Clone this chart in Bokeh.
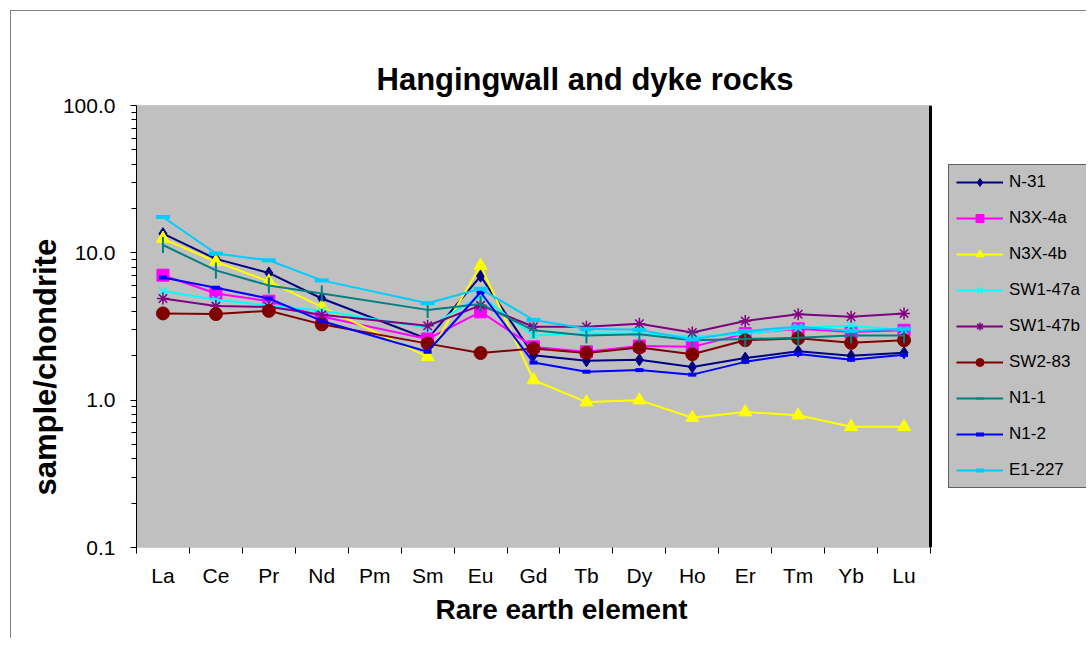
import math
from bokeh.plotting import figure
from bokeh.models import (Range1d, LinearAxis, FixedTicker, CustomJSTickFormatter,
                          PrintfTickFormatter, Legend, LegendItem, Title, ColumnDataSource,
                          Span, BoxAnnotation)
from bokeh.embed import file_html
from bokeh.resources import INLINE

# ---------------- data ----------------
elements = ["La", "Ce", "Pr", "Nd", "Pm", "Sm", "Eu", "Gd", "Tb", "Dy", "Ho", "Er", "Tm", "Yb", "Lu"]
y_ticks = [0.1, 1, 10, 100]

n_31     = [13.5, 9.1, 7.3, 4.9, None, 2.6, 6.95, 2.02, 1.85, 1.88, 1.68, 1.93, 2.15, 2.0, 2.1]
n3x_4a   = [7.05, 5.3, 4.7, 3.7, None, 2.6, 3.98, 2.3, 2.13, 2.33, 2.3, 2.83, 3.05, 2.9, 2.98]
n3x_4b   = [12.5, 8.7, 6.4, 4.3, None, 1.97, 8.2, 1.37, 0.97, 1.0, 0.76, 0.83, 0.79, 0.66, 0.66]
sw1_47a  = [5.5, 4.8, 4.4, 4.05, None, 3.1, 5.1, 2.75, 2.85, 2.85, 2.7, 2.8, 3.1, 3.2, 2.98]
sw1_47b  = [4.9, 4.35, 4.3, 3.8, None, 3.2, 4.4, 3.15, 3.15, 3.3, 2.88, 3.45, 3.83, 3.68, 3.88]
sw2_83   = [3.88, 3.84, 4.04, 3.27, None, 2.42, 2.09, 2.24, 2.09, 2.28, 2.05, 2.55, 2.63, 2.45, 2.55]
n1_1     = [11.3, 7.6, 6.0, 5.3, None, 4.1, 4.5, 2.98, 2.75, 2.8, 2.55, 2.6, 2.65, 2.75, 2.75]
n1_2     = [6.8, 5.8, 4.9, 3.45, None, 2.13, 5.4, 1.8, 1.56, 1.6, 1.49, 1.82, 2.06, 1.88, 2.03]
e1_227   = [17.5, 9.9, 8.9, 6.5, None, 4.55, 5.7, 3.5, 3.05, 3.0, 2.58, 2.95, 3.15, 2.95, 3.05]

series_names = ["N-31", "N3X-4a", "N3X-4b", "SW1-47a", "SW1-47b", "SW2-83", "N1-1", "N1-2", "E1-227"]
series_values = [n_31, n3x_4a, n3x_4b, sw1_47a, sw1_47b, sw2_83, n1_1, n1_2, e1_227]

# ---------------- styles ----------------
colors = ["#000080", "#FF00FF", "#FFFF00", "#00FFFF", "#800080", "#800000", "#008080", "#0000FF", "#00CCFF"]
markers = ["diamond", "square", "triangle", "x", "asterisk", "circle", "dash", "dash", "dash"]
msizes = [12, 12, 13, 11, 12, 13, 16, 8, 14]
mlinew = [1, 1, 1, 1.5, 1.5, 1, 2, 4, 4]
mangle = [0, 0, 0, 0, 0, 0, math.pi / 2, 0, 0]
lwidths = [2, 2, 2, 2, 2, 2, 2, 2, 2]

FONT = "Liberation Sans"

# layout (pixels)
W, H = 1076, 628
BL, BT, BR, BB = 125, 94, 1, 92
AREA_W = 794                     # width of the grey plot area
FRAME_W = W - BL - BR            # frame also hosts the legend on its right
x_end = len(elements) * FRAME_W / AREA_W

p = figure(width=W, height=H,
           x_range=Range1d(0, x_end), y_range=Range1d(0.1, 100),
           y_axis_type="log", x_axis_location=None,
           output_backend="svg", toolbar_location=None,
           min_border_left=BL, min_border_top=BT, min_border_right=BR, min_border_bottom=BB)

p.styles = {"border-left": "1px solid #7f7f7f", "border-top": "1px solid #7f7f7f",
            "margin-left": "10px", "margin-top": "10px"}

p.background_fill_color = "white"
p.border_fill_color = "white"
p.outline_line_color = None
p.grid.visible = False

# grey plot area spanning the categories
p.add_layout(BoxAnnotation(left=0, right=len(elements), fill_color="#C0C0C0", fill_alpha=1.0,
                           line_color="black", line_width=1, level="underlay"))
# thick right edge of plot area
p.add_layout(Span(location=len(elements), dimension="height", line_color="black", line_width=3))

# y axis
ya = p.yaxis[0]
ya.ticker = FixedTicker(ticks=y_ticks,
                        minor_ticks=[m * t for t in y_ticks[:-1] for m in range(2, 10)])
ya.formatter = PrintfTickFormatter(format="%.1f")
ya.major_tick_out = 6
ya.major_tick_in = 0
ya.minor_tick_out = 5
ya.minor_tick_in = 0
ya.major_label_standoff = 15
ya.major_label_text_font = FONT
ya.major_label_text_font_size = "21px"
ya.major_label_text_color = "black"
ya.axis_line_color = "black"

# x axis: ticks at category boundaries (no labels)
tick_ax = LinearAxis(ticker=FixedTicker(ticks=list(range(len(elements) + 1))),
                     formatter=CustomJSTickFormatter(code="return ''"),
                     major_tick_out=6, major_tick_in=0, minor_tick_out=0, minor_tick_in=0,
                     major_label_standoff=0, axis_line_color=None)
p.add_layout(tick_ax, "below")

# x axis: category names centred between the ticks
label_ax = LinearAxis(ticker=FixedTicker(ticks=[i + 0.5 for i in range(len(elements))]),
                      formatter=CustomJSTickFormatter(args=dict(names=elements),
                                                      code="return names[Math.floor(tick)]"),
                      axis_line_color=None, major_tick_out=0, major_tick_in=0,
                      minor_tick_out=0, minor_tick_in=0, major_label_standoff=10,
                      major_label_text_font=FONT, major_label_text_font_size="21px",
                      major_label_text_color="black")
p.add_layout(label_ax, "below")

# titles
p.title.text = "Hangingwall and dyke rocks"
p.title.align = "left"
p.title.offset = 240
p.title.text_font = FONT
p.title.text_font_size = "31px"
p.title.text_font_style = "bold"
p.title.text_color = "black"
p.title.standoff = 18

xlab = Title(text="Rare earth element", align="left", offset=299, text_font=FONT,
             text_font_size="28px", text_font_style="bold", text_color="black", standoff=4)
p.add_layout(xlab, "below")
ylab = Title(text="sample/chondrite", align="left", offset=52, text_font=FONT,
             text_font_size="31px", text_font_style="bold", text_color="black", standoff=0)
try:
    ylab.standoff = -7
except Exception:
    pass
p.add_layout(ylab, "left")

# series
items = []
for name, vals, c, mk, ms, mlw, ang, lw in zip(series_names, series_values, colors, markers,
                                                msizes, mlinew, mangle, lwidths):
    xs = [i + 0.5 for i, v in enumerate(vals) if v is not None]
    ys = [v for v in vals if v is not None]
    src = ColumnDataSource(dict(x=xs, y=ys))
    ln = p.line("x", "y", source=src, line_color=c, line_width=lw)
    sc = p.scatter("x", "y", source=src, marker=mk, size=ms, fill_color=c, line_color=c,
                   line_width=mlw, angle=ang)
    items.append(LegendItem(label=name, renderers=[ln, sc]))

legend = Legend(items=items, location=(AREA_W + 18, 59),
                background_fill_color="#C0C0C0", background_fill_alpha=1.0,
                border_line_color="black", border_line_width=1,
                label_text_font=FONT, label_text_font_size="17px", label_text_color="black",
                glyph_width=47, glyph_height=20, label_height=20, label_standoff=6,
                spacing=16, padding=7, margin=0)
p.add_layout(legend, "center")

open("out.html", "w").write(file_html(p, INLINE, title="Hangingwall and dyke rocks"))
